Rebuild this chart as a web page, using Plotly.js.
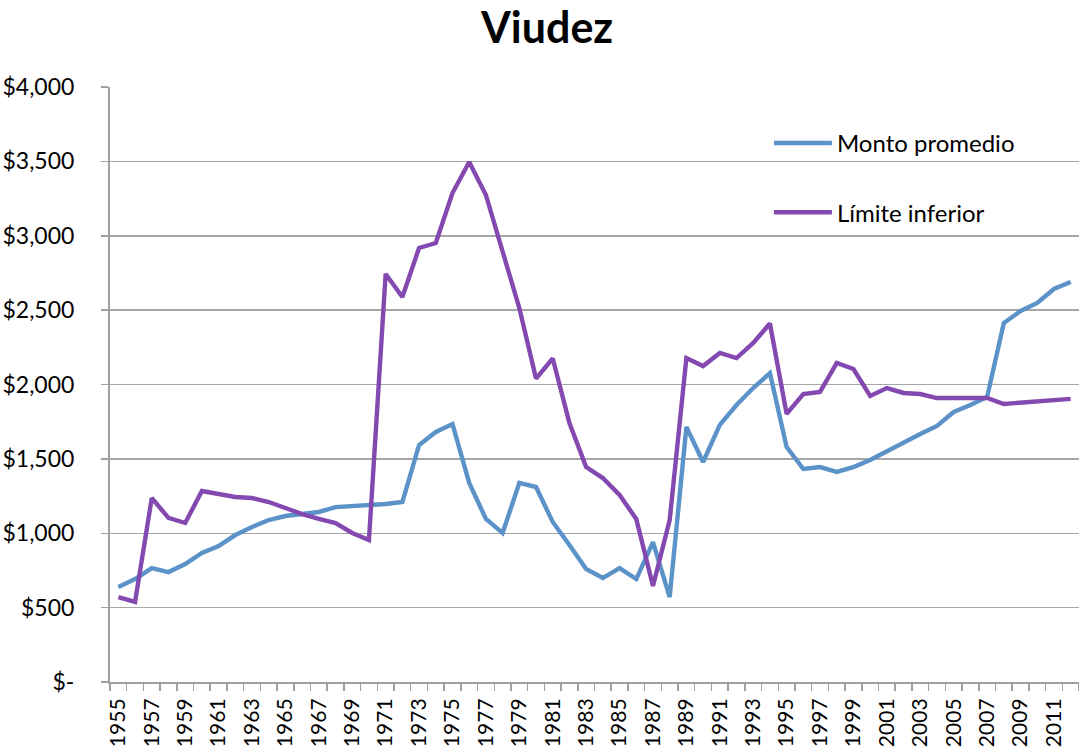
<!DOCTYPE html>
<html>
<head>
<meta charset="utf-8">
<script src="https://cdn.plot.ly/plotly-3.0.1.min.js"></script>
<style>html,body{margin:0;padding:0;background:#fff;}#chart{width:1079px;height:755px;}</style>
</head>
<body>
<div id="chart"></div>
<script>
const years = [1955,1956,1957,1958,1959,1960,1961,1962,1963,1964,1965,1966,1967,1968,1969,1970,1971,1972,1973,1974,1975,1976,1977,1978,1979,1980,1981,1982,1983,1984,1985,1986,1987,1988,1989,1990,1991,1992,1993,1994,1995,1996,1997,1998,1999,2000,2001,2002,2003,2004,2005,2006,2007,2008,2009,2010,2011,2012];
const montoPromedio = [639,692,766,739,793,867,914,988,1042,1089,1116,1129,1143,1176,1183,1183,1197,1210,1593,1681,1734,1338,1096,1002,1338,1311,1076,921,760,699,766,692,941,571,1714,1479,1728,1862,1976,2077,1580,1432,1445,1412,1445,1492,1553,1607,1667,1721,1815,1862,1916,2413,2494,2548,2642,2689];
const limiteInferior = [571,538,1237,1103,1069,1284,1264,1244,1237,1210,1170,1129,1096,1069,1002,955,2743,2588,2918,2951,3287,3496,3274,2891,2514,2040,2175,1741,1445,1371,1257,1096,645,1089,2178,2124,2212,2178,2279,2410,1802,1936,1950,2145,2104,1923,1976,1943,1936,1909,1909,1909,1909,1869,1876,1882,1889,1903];
const yTickVals = [0,500,1000,1500,2000,2500,3000,3500,4000];
const yTickText = ["$-","$500","$1,000","$1,500","$2,000","$2,500","$3,000","$3,500","$4,000"];
const xTickVals = years.filter((y,i)=>i%2===0);
const xTickText = xTickVals.map(String);

const font = "Lato, 'Open Sans', sans-serif";
const traces = [
  {x: years, y: montoPromedio, name: "Monto promedio", type: "scatter", mode: "lines",
   legendgroup: "a", line: {color: "#5B93C9", width: 4.4}},
  {x: years, y: limiteInferior, name: "Límite inferior", type: "scatter", mode: "lines",
   legendgroup: "b", line: {color: "#8449B0", width: 4.4}}
];
const layout = {
  width: 1079, height: 755,
  margin: {l: 110, r: 0, t: 87, b: 73},
  paper_bgcolor: "#fff", plot_bgcolor: "#fff",
  font: {family: font, color: "#000", size: 22},
  title: {text: "<b>Viudez</b>", x: 0.507, xref: "container", xanchor: "center", y: 0.963, yref: "container", yanchor: "middle",
          font: {family: font, size: 43, color: "#000"}},
  showlegend: true,
  legend: {x: 0.68, y: 0.943, xanchor: "left", yanchor: "top", bgcolor: "rgba(0,0,0,0)",
           font: {family: font, size: 24, color: "#000"}, tracegroupgap: 35, itemwidth: 58},
  xaxis: {
    type: "linear", range: [1954.5, 2012.5],
    tickmode: "array", tickvals: xTickVals, ticktext: xTickText, tickangle: -90,
    ticks: "", showgrid: false, zeroline: false,
    showline: true, linecolor: "#a0a0a0", linewidth: 2,
    minor: {ticks: "outside", tick0: 1954.5, dtick: 1, ticklen: 7, tickcolor: "#a0a0a0", tickwidth: 1.5, showgrid: false},
    tickfont: {family: font, size: 21, color: "#000"}, ticklabelstandoff: 6
  },
  yaxis: {
    range: [0, 4000], tickmode: "array", tickvals: yTickVals, ticktext: yTickText,
    ticks: "outside", ticklen: 7, tickcolor: "#a0a0a0", tickwidth: 1.5,
    showgrid: true, gridcolor: "#a6a6a6", gridwidth: 1.5, zeroline: false,
    showline: true, linecolor: "#a0a0a0", linewidth: 2,
    tickfont: {family: font, size: 23, color: "#000"}, ticklabelstandoff: 22
  }
};
Plotly.newPlot("chart", traces, layout, {displayModeBar: false, staticPlot: true});
</script>
</body>
</html>
